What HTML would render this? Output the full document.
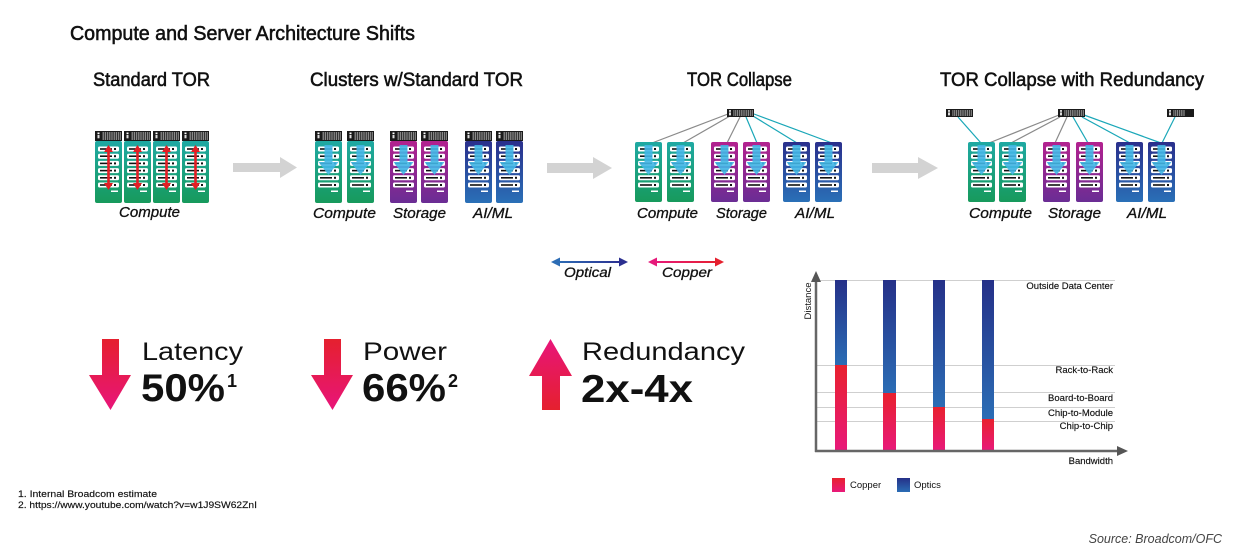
<!DOCTYPE html>
<html><head><meta charset="utf-8"><style>
html,body{margin:0;padding:0;background:#fff;}
svg{display:block;}
text{font-family:"Liberation Sans",sans-serif;}
.it{font-style:italic;}
.hd{stroke:#111;stroke-width:0.55;}
.lb{stroke:#111;stroke-width:0.3;}
</style></head><body>
<svg width="1233" height="550" viewBox="0 0 1233 550" xmlns="http://www.w3.org/2000/svg">
<defs>
<linearGradient id="gGreen" x1="0" y1="0" x2="0" y2="1"><stop offset="0" stop-color="#1fa9a3"/><stop offset="1" stop-color="#179a5c"/></linearGradient>
<linearGradient id="gPurple" x1="0" y1="0" x2="0" y2="1"><stop offset="0" stop-color="#b3228f"/><stop offset="1" stop-color="#6a2d94"/></linearGradient>
<linearGradient id="gBlue" x1="0" y1="0" x2="0" y2="1"><stop offset="0" stop-color="#2a2f8c"/><stop offset="1" stop-color="#2a70b7"/></linearGradient>
<linearGradient id="gOpt" x1="0" y1="0" x2="0" y2="1"><stop offset="0" stop-color="#253088"/><stop offset="1" stop-color="#2b6db5"/></linearGradient>
<linearGradient id="gCop" x1="0" y1="0" x2="0" y2="1"><stop offset="0" stop-color="#e8212e"/><stop offset="1" stop-color="#e8197a"/></linearGradient>
<linearGradient id="gDown" x1="0" y1="0" x2="0" y2="1"><stop offset="0" stop-color="#e5202e"/><stop offset="1" stop-color="#e8157a"/></linearGradient>
<linearGradient id="gUp" x1="0" y1="0" x2="0" y2="1"><stop offset="0" stop-color="#e8157a"/><stop offset="1" stop-color="#e5202e"/></linearGradient>
<linearGradient id="gOptH" x1="0" y1="0" x2="1" y2="0"><stop offset="0" stop-color="#2d6db5"/><stop offset="1" stop-color="#2b2f90"/></linearGradient>
<linearGradient id="gCopH" x1="0" y1="0" x2="1" y2="0"><stop offset="0" stop-color="#e6197a"/><stop offset="1" stop-color="#e5202e"/></linearGradient>
<pattern id="str" width="2.2" height="12" patternUnits="userSpaceOnUse"><rect width="2.2" height="12" fill="#2a2a2a"/><rect x="1.1" width="1" height="12" fill="#9a9a9a"/></pattern>
<g id="slots">
 <rect x="3" y="146.5" width="21" height="5" rx="1.5" fill="#fff"/><rect x="5" y="148.2" width="12" height="1.6" fill="#111"/><rect x="19" y="148" width="2" height="2" fill="#111"/>
 <rect x="3" y="153.7" width="21" height="5" rx="1.5" fill="#fff"/><rect x="5" y="155.4" width="12" height="1.6" fill="#111"/><rect x="19" y="155.2" width="2" height="2" fill="#111"/>
 <rect x="3" y="160.9" width="21" height="5" rx="1.5" fill="#fff"/><rect x="5" y="162.6" width="12" height="1.6" fill="#111"/><rect x="19" y="162.4" width="2" height="2" fill="#111"/>
 <rect x="3" y="168.1" width="21" height="5" rx="1.5" fill="#fff"/><rect x="5" y="169.8" width="12" height="1.6" fill="#111"/><rect x="19" y="169.6" width="2" height="2" fill="#111"/>
 <rect x="3" y="175.3" width="21" height="5" rx="1.5" fill="#fff"/><rect x="5" y="177" width="12" height="1.6" fill="#111"/><rect x="19" y="176.8" width="2" height="2" fill="#111"/>
 <rect x="3" y="182.5" width="21" height="5" rx="1.5" fill="#fff"/><rect x="5" y="184.2" width="12" height="1.6" fill="#111"/><rect x="19" y="184" width="2" height="2" fill="#111"/>
 <rect x="16" y="190.5" width="7" height="1.5" fill="#fff"/>
</g>
<g id="hdr">
 <rect x="0" y="131" width="27" height="10" fill="#1a1a1a"/>
 <rect x="7" y="132" width="19" height="8" fill="url(#str)"/>
 <rect x="2.5" y="132.5" width="2" height="1.5" fill="#fff"/>
 <rect x="2.5" y="134.8" width="2" height="3.5" fill="#ddd"/>
</g>
<polygon id="barrow" points="9.5,145 17.5,145 17.5,162 23.5,162 13.5,175 3.5,162 9.5,162" fill="#41b6e6" fill-opacity="0.9"/>
<g id="redarr">
 <line x1="13.5" y1="150" x2="13.5" y2="185" stroke="#e31e24" stroke-width="2.6"/>
 <polygon points="13.5,145 9,152 18,152" fill="#e31e24"/>
 <polygon points="13.5,190 9,183 18,183" fill="#e31e24"/>
</g>
<g id="sw">
 <rect x="0" y="0" width="27" height="8" fill="#1a1a1a"/>
 <rect x="6" y="1" width="20" height="6" fill="url(#str)"/>
 <rect x="2" y="1.2" width="2" height="1.5" fill="#fff"/>
 <rect x="2" y="3.4" width="2" height="3" fill="#ddd"/>
</g>
<g id="swR">
 <rect x="0" y="0" width="27" height="8" fill="#1a1a1a"/>
 <rect x="6" y="1" width="12" height="6" fill="url(#str)"/>
 <rect x="2" y="1.2" width="2" height="1.5" fill="#fff"/>
 <rect x="2" y="3.4" width="2" height="3" fill="#ddd"/>
</g>
</defs>

<rect width="1233" height="550" fill="#fff"/>

<!-- Titles -->
<text x="70" y="40" font-size="20" fill="#111" class="hd" textLength="345" lengthAdjust="spacingAndGlyphs">Compute and Server Architecture Shifts</text>
<text x="93" y="86" font-size="19" fill="#111" class="hd" textLength="117" lengthAdjust="spacingAndGlyphs">Standard TOR</text>
<text x="310" y="86" font-size="19" fill="#111" class="hd" textLength="213" lengthAdjust="spacingAndGlyphs">Clusters w/Standard TOR</text>
<text x="687" y="86" font-size="19" fill="#111" class="hd" textLength="105" lengthAdjust="spacingAndGlyphs">TOR Collapse</text>
<text x="940" y="86" font-size="19" fill="#111" class="hd" textLength="264" lengthAdjust="spacingAndGlyphs">TOR Collapse with Redundancy</text>

<!-- Standard TOR racks -->
<g transform="translate(95,0)"><use href="#hdr"/><rect x="0" y="141" width="27" height="62" rx="2" fill="url(#gGreen)"/><use href="#slots"/><use href="#redarr"/></g>
<g transform="translate(124,0)"><use href="#hdr"/><rect x="0" y="141" width="27" height="62" rx="2" fill="url(#gGreen)"/><use href="#slots"/><use href="#redarr"/></g>
<g transform="translate(153,0)"><use href="#hdr"/><rect x="0" y="141" width="27" height="62" rx="2" fill="url(#gGreen)"/><use href="#slots"/><use href="#redarr"/></g>
<g transform="translate(182,0)"><use href="#hdr"/><rect x="0" y="141" width="27" height="62" rx="2" fill="url(#gGreen)"/><use href="#slots"/><use href="#redarr"/></g>
<text x="119" y="217" font-size="15" class="it lb" fill="#111" textLength="61" lengthAdjust="spacingAndGlyphs">Compute</text>

<!-- Arrow 1 -->
<polygon points="233,163 280,163 280,157 297,167.5 280,178 280,172 233,172" fill="#d3d3d3"/>

<!-- Clusters -->
<g transform="translate(315,0)"><use href="#hdr"/><rect x="0" y="141" width="27" height="62" rx="2" fill="url(#gGreen)"/><use href="#slots"/><use href="#barrow"/></g>
<g transform="translate(347,0)"><use href="#hdr"/><rect x="0" y="141" width="27" height="62" rx="2" fill="url(#gGreen)"/><use href="#slots"/><use href="#barrow"/></g>
<g transform="translate(390,0)"><use href="#hdr"/><rect x="0" y="141" width="27" height="62" rx="2" fill="url(#gPurple)"/><use href="#slots"/><use href="#barrow"/></g>
<g transform="translate(421,0)"><use href="#hdr"/><rect x="0" y="141" width="27" height="62" rx="2" fill="url(#gPurple)"/><use href="#slots"/><use href="#barrow"/></g>
<g transform="translate(465,0)"><use href="#hdr"/><rect x="0" y="141" width="27" height="62" rx="2" fill="url(#gBlue)"/><use href="#slots"/><use href="#barrow"/></g>
<g transform="translate(496,0)"><use href="#hdr"/><rect x="0" y="141" width="27" height="62" rx="2" fill="url(#gBlue)"/><use href="#slots"/><use href="#barrow"/></g>
<text x="313" y="218" font-size="15" class="it lb" fill="#111" textLength="63" lengthAdjust="spacingAndGlyphs">Compute</text>
<text x="393" y="218" font-size="15" class="it lb" fill="#111" textLength="53" lengthAdjust="spacingAndGlyphs">Storage</text>
<text x="473" y="218" font-size="15" class="it lb" fill="#111" textLength="40" lengthAdjust="spacingAndGlyphs">AI/ML</text>

<!-- Arrow 2 -->
<polygon points="547,163 593,163 593,157 612,168 593,179 593,173 547,173" fill="#d3d3d3"/>

<!-- TOR Collapse -->
<g stroke-width="1.2" fill="none">
 <line x1="728" y1="114" x2="652" y2="143" stroke="#8a8a8a"/>
 <line x1="730" y1="116" x2="683" y2="143" stroke="#8a8a8a"/>
 <line x1="740" y1="117" x2="727" y2="143" stroke="#8a8a8a"/>
 <line x1="746" y1="117" x2="757" y2="143" stroke="#1aa7b8"/>
 <line x1="753" y1="116" x2="797" y2="143" stroke="#1aa7b8"/>
 <line x1="754" y1="114" x2="832" y2="143" stroke="#1aa7b8"/>
</g>
<use href="#sw" x="727" y="109"/>
<g transform="translate(635,0)"><rect x="0" y="142" width="27" height="60" rx="2" fill="url(#gGreen)"/><use href="#slots"/><use href="#barrow"/></g>
<g transform="translate(667,0)"><rect x="0" y="142" width="27" height="60" rx="2" fill="url(#gGreen)"/><use href="#slots"/><use href="#barrow"/></g>
<g transform="translate(711,0)"><rect x="0" y="142" width="27" height="60" rx="2" fill="url(#gPurple)"/><use href="#slots"/><use href="#barrow"/></g>
<g transform="translate(743,0)"><rect x="0" y="142" width="27" height="60" rx="2" fill="url(#gPurple)"/><use href="#slots"/><use href="#barrow"/></g>
<g transform="translate(783,0)"><rect x="0" y="142" width="27" height="60" rx="2" fill="url(#gBlue)"/><use href="#slots"/><use href="#barrow"/></g>
<g transform="translate(815,0)"><rect x="0" y="142" width="27" height="60" rx="2" fill="url(#gBlue)"/><use href="#slots"/><use href="#barrow"/></g>
<text x="637" y="218" font-size="15" class="it lb" fill="#111" textLength="61" lengthAdjust="spacingAndGlyphs">Compute</text>
<text x="716" y="218" font-size="15" class="it lb" fill="#111" textLength="51" lengthAdjust="spacingAndGlyphs">Storage</text>
<text x="795" y="218" font-size="15" class="it lb" fill="#111" textLength="40" lengthAdjust="spacingAndGlyphs">AI/ML</text>

<!-- Arrow 3 -->
<polygon points="872,163 918,163 918,157 938,168 918,179 918,173 872,173" fill="#d3d3d3"/>

<!-- TOR Collapse with Redundancy -->
<g stroke-width="1.2" fill="none">
 <line x1="958" y1="117" x2="981" y2="143" stroke="#1aa7b8"/>
 <line x1="1059" y1="115" x2="989" y2="143" stroke="#8a8a8a"/>
 <line x1="1060" y1="117" x2="1011" y2="143" stroke="#8a8a8a"/>
 <line x1="1067" y1="117" x2="1055" y2="143" stroke="#8a8a8a"/>
 <line x1="1073" y1="117" x2="1088" y2="143" stroke="#1aa7b8"/>
 <line x1="1082" y1="117" x2="1130" y2="143" stroke="#1aa7b8"/>
 <line x1="1084" y1="115" x2="1161" y2="143" stroke="#1aa7b8"/>
 <line x1="1175" y1="117" x2="1162" y2="143" stroke="#1aa7b8"/>
</g>
<use href="#sw" x="946" y="109"/>
<use href="#sw" x="1058" y="109"/>
<use href="#swR" x="1167" y="109"/>
<g transform="translate(968,0)"><rect x="0" y="142" width="27" height="60" rx="2" fill="url(#gGreen)"/><use href="#slots"/><use href="#barrow"/></g>
<g transform="translate(999,0)"><rect x="0" y="142" width="27" height="60" rx="2" fill="url(#gGreen)"/><use href="#slots"/><use href="#barrow"/></g>
<g transform="translate(1043,0)"><rect x="0" y="142" width="27" height="60" rx="2" fill="url(#gPurple)"/><use href="#slots"/><use href="#barrow"/></g>
<g transform="translate(1076,0)"><rect x="0" y="142" width="27" height="60" rx="2" fill="url(#gPurple)"/><use href="#slots"/><use href="#barrow"/></g>
<g transform="translate(1116,0)"><rect x="0" y="142" width="27" height="60" rx="2" fill="url(#gBlue)"/><use href="#slots"/><use href="#barrow"/></g>
<g transform="translate(1148,0)"><rect x="0" y="142" width="27" height="60" rx="2" fill="url(#gBlue)"/><use href="#slots"/><use href="#barrow"/></g>
<text x="969" y="218" font-size="15" class="it lb" fill="#111" textLength="63" lengthAdjust="spacingAndGlyphs">Compute</text>
<text x="1048" y="218" font-size="15" class="it lb" fill="#111" textLength="53" lengthAdjust="spacingAndGlyphs">Storage</text>
<text x="1127" y="218" font-size="15" class="it lb" fill="#111" textLength="40" lengthAdjust="spacingAndGlyphs">AI/ML</text>

<!-- Optical / Copper legend -->
<rect x="557" y="261" width="65" height="2" fill="url(#gOptH)"/>
<polygon points="551,262 560,257.5 560,266.5" fill="#2d6db5"/>
<polygon points="628,262 619,257.5 619,266.5" fill="#2b2f90"/>
<text x="564" y="277" font-size="14" class="it lb" fill="#111" textLength="47" lengthAdjust="spacingAndGlyphs">Optical</text>
<rect x="654" y="261" width="64" height="2" fill="url(#gCopH)"/>
<polygon points="648,262 657,257.5 657,266.5" fill="#e6197a"/>
<polygon points="724,262 715,257.5 715,266.5" fill="#e5202e"/>
<text x="662" y="277" font-size="14" class="it lb" fill="#111" textLength="50" lengthAdjust="spacingAndGlyphs">Copper</text>

<!-- Big stats -->
<polygon points="102,339 119,339 119,375 131,375 110.5,410 89,375 102,375" fill="url(#gDown)"/>
<text x="142" y="360" font-size="25" fill="#111" textLength="101" lengthAdjust="spacingAndGlyphs">Latency</text>
<text x="141" y="401" font-size="39" font-weight="bold" fill="#111" textLength="84" lengthAdjust="spacingAndGlyphs">50%</text>
<text x="227" y="387" font-size="18" font-weight="bold" fill="#111">1</text>

<polygon points="324,339 341,339 341,375 353,375 332.5,410 311,375 324,375" fill="url(#gDown)"/>
<text x="363" y="360" font-size="25" fill="#111" textLength="84" lengthAdjust="spacingAndGlyphs">Power</text>
<text x="362" y="401" font-size="39" font-weight="bold" fill="#111" textLength="84" lengthAdjust="spacingAndGlyphs">66%</text>
<text x="448" y="387" font-size="18" font-weight="bold" fill="#111">2</text>

<polygon points="550.5,339 572,376 560,376 560,410 542,410 542,376 529,376" fill="url(#gUp)"/>
<text x="582" y="360" font-size="25" fill="#111" textLength="163" lengthAdjust="spacingAndGlyphs">Redundancy</text>
<text x="581" y="402" font-size="39" font-weight="bold" fill="#111" textLength="112" lengthAdjust="spacingAndGlyphs">2x-4x</text>

<!-- Chart -->
<g stroke="#cfcfcf" stroke-width="1">
 <line x1="816" y1="280.5" x2="1115" y2="280.5"/>
 <line x1="816" y1="365.5" x2="1115" y2="365.5"/>
 <line x1="816" y1="392.5" x2="1115" y2="392.5"/>
 <line x1="816" y1="407.5" x2="1115" y2="407.5"/>
 <line x1="816" y1="421.5" x2="1115" y2="421.5"/>
</g>
<rect x="835" y="280" width="12" height="85" fill="url(#gOpt)"/>
<rect x="835" y="365" width="12" height="86" fill="url(#gCop)"/>
<rect x="883" y="280" width="13" height="113" fill="url(#gOpt)"/>
<rect x="883" y="393" width="13" height="58" fill="url(#gCop)"/>
<rect x="933" y="280" width="12" height="127" fill="url(#gOpt)"/>
<rect x="933" y="407" width="12" height="44" fill="url(#gCop)"/>
<rect x="982" y="280" width="12" height="139" fill="url(#gOpt)"/>
<rect x="982" y="419" width="12" height="32" fill="url(#gCop)"/>
<line x1="816" y1="280" x2="816" y2="452" stroke="#666" stroke-width="2.5"/>
<line x1="815" y1="451" x2="1119" y2="451" stroke="#666" stroke-width="2.5"/>
<polygon points="816,271 811,282 821,282" fill="#555"/>
<polygon points="1128,451 1117,446 1117,456" fill="#555"/>
<g font-size="9.5" fill="#111" text-anchor="end" stroke="#111" stroke-width="0.15">
 <text x="1113" y="289">Outside Data Center</text>
 <text x="1113" y="373">Rack-to-Rack</text>
 <text x="1113" y="401">Board-to-Board</text>
 <text x="1113" y="416">Chip-to-Module</text>
 <text x="1113" y="429">Chip-to-Chip</text>
 <text x="1113" y="464">Bandwidth</text>
</g>
<text transform="translate(811,301) rotate(-90)" font-size="9.5" fill="#111" text-anchor="middle">Distance</text>
<rect x="832" y="478" width="13" height="14" fill="url(#gCop)"/>
<text x="850" y="488" font-size="9.5" fill="#111">Copper</text>
<rect x="897" y="478" width="13" height="14" fill="url(#gOpt)"/>
<text x="914" y="488" font-size="9.5" fill="#111">Optics</text>

<!-- Footnotes -->
<text x="18" y="497" font-size="9" fill="#111" stroke="#111" stroke-width="0.15" textLength="139" lengthAdjust="spacingAndGlyphs">1. Internal Broadcom estimate</text>
<text x="18" y="508" font-size="9" fill="#111" stroke="#111" stroke-width="0.15" textLength="239" lengthAdjust="spacingAndGlyphs">2. https://www.youtube.com/watch?v=w1J9SW62ZnI</text>

<text x="1222" y="543" font-size="12.5" class="it" fill="#444" text-anchor="end">Source: Broadcom/OFC</text>
</svg>
</body></html>
